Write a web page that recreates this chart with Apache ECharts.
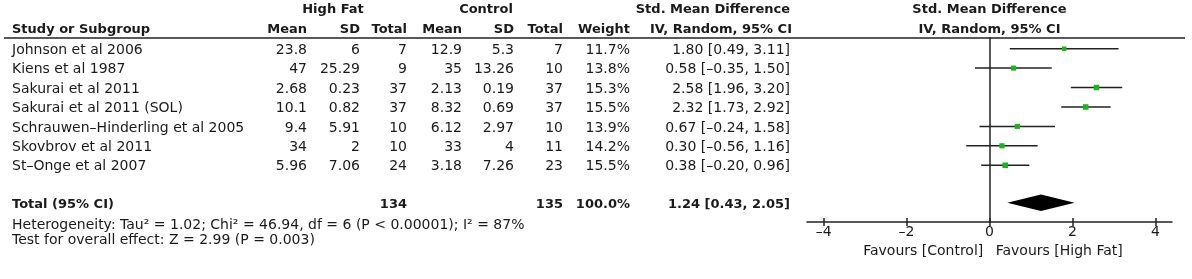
<!DOCTYPE html>
<html>
<head>
<meta charset="utf-8">
<script src="https://cdn.jsdelivr.net/npm/echarts@6/dist/echarts.min.js"></script>
<style>
  html, body { margin: 0; padding: 0; background: #fff; }
  #main { width: 1192px; height: 279px; }
</style>
</head>
<body>
<div id="main"></div>
<script>
// 数据
var studies = ['Johnson et al 2006', 'Kiens et al 1987', 'Sakurai et al 2011', 'Sakurai et al 2011 (SOL)',
               'Schrauwen–Hinderling et al 2005', 'Skovbrov et al 2011', 'St–Onge et al 2007'];
var hfMean  = [23.8, 47, 2.68, 10.1, 9.4, 34, 5.96];
var hfSD    = [6, 25.29, 0.23, 0.82, 5.91, 2, 7.06];
var hfTotal = [7, 9, 37, 37, 10, 10, 24];
var ctMean  = [12.9, 35, 2.13, 8.32, 6.12, 33, 3.18];
var ctSD    = [5.3, 13.26, 0.19, 0.69, 2.97, 4, 7.26];
var ctTotal = [7, 10, 37, 37, 10, 11, 23];
var weight  = [11.7, 13.8, 15.3, 15.5, 13.9, 14.2, 15.5];
var smd     = [1.80, 0.58, 2.58, 2.32, 0.67, 0.30, 0.38];
var lower   = [0.49, -0.35, 1.96, 1.73, -0.24, -0.56, -0.20];
var upper   = [3.11, 1.50, 3.20, 2.92, 1.58, 1.16, 0.96];

var totalHF = 134;
var totalCT = 135;
var totalWeight = 100.0;
var totalSmd = [1.24, 0.43, 2.05]; // 点估计, 下限, 上限

var tickValues = [-4, -2, 0, 2, 4];
var heterogeneity = 'Heterogeneity: Tau² = 1.02; Chi² = 46.94, df = 6 (P < 0.00001); I² = 87%';
var overallEffect = 'Test for overall effect: Z = 2.99 (P = 0.003)';

var FONT = 'DejaVu Sans';
var INK = '#1a1a1a';
var LINE = '#222';
var totalRow = 7.93;

function dash(s) { return String(s).replace('-', '–'); }
function fmtCI(m, lo, hi) { return dash(m.toFixed(2)) + ' [' + dash(lo.toFixed(2)) + ', ' + dash(hi.toFixed(2)) + ']'; }

var myChart = echarts.init(document.getElementById('main'));

var ciData = [], ptData = [];
for (var i = 0; i < studies.length; i++) {
    ciData.push([lower[i], upper[i], i]);
    ptData.push([smd[i], i, weight[i]]);
}

var option = {
    animation: false,
    grid: { left: 807, right: 20, top: 38, bottom: 57 },
    xAxis: [{
        type: 'value', min: -4.4, max: 4.4, position: 'bottom',
        axisLine: { onZero: false, lineStyle: { color: LINE, width: 1.5 } },
        splitLine: { show: false },
        axisTick: { customValues: tickValues, length: 4, lineStyle: { color: LINE, width: 1.5 } },
        axisLabel: {
            customValues: tickValues, margin: 3,
            fontFamily: FONT, fontSize: 14, color: INK,
            formatter: function (v) { return dash(v); }
        }
    }, {
        // 只画刻度朝上的一半
        type: 'value', min: -4.4, max: 4.4, position: 'bottom',
        axisLine: { show: false, onZero: false },
        splitLine: { show: false },
        axisTick: { customValues: tickValues, inside: true, length: 4, lineStyle: { color: LINE, width: 1.5 } },
        axisLabel: { show: false }
    }],
    yAxis: {
        type: 'value', inverse: true, min: -0.55, max: 8.92,
        axisLine: { show: true, onZero: true, lineStyle: { color: LINE, width: 1.5 } },
        axisTick: { show: false },
        axisLabel: { show: false },
        splitLine: { show: false }
    },
    series: [{
        // 置信区间
        type: 'custom',
        data: ciData,
        encode: { x: [0, 1], y: 2 },
        renderItem: function (params, api) {
            var a = api.coord([api.value(0), api.value(2)]);
            var b = api.coord([api.value(1), api.value(2)]);
            return { type: 'line', shape: { x1: a[0], y1: a[1], x2: b[0], y2: b[1] },
                     style: { stroke: LINE, lineWidth: 1.5 } };
        }
    }, {
        type: 'scatter',
        data: ptData,
        symbol: 'rect',
        symbolSize: function (v) { return 1.2 + v[2] * 0.28; },
        itemStyle: { color: '#16b816', opacity: 1 },
        z: 3
    }, {
        // 合并效应菱形
        type: 'custom',
        data: [[totalSmd[0], totalSmd[1], totalSmd[2], totalRow]],
        encode: { x: [0, 1, 2], y: 3 },
        renderItem: function (params, api) {
            var y = api.value(3);
            var c = api.coord([api.value(0), y]);
            var l = api.coord([api.value(1), y]);
            var r = api.coord([api.value(2), y]);
            var h = 8.3;
            return { type: 'polygon',
                     shape: { points: [[l[0], c[1]], [c[0], c[1] - h], [r[0], c[1]], [c[0], c[1] + h]] },
                     style: { fill: '#000' } };
        },
        z: 4
    }]
};

myChart.setOption(option);

// 表格文字
function rowY(idx) { return myChart.convertToPixel({ yAxisIndex: 0 }, idx); }
function px(v) { return myChart.convertToPixel({ xAxisIndex: 0 }, v); }

var g = [];
function txt(s, x, y, align, bold) {
    g.push({ type: 'text', x: x, y: y, silent: true,
             style: { text: s, fill: INK, font: (bold ? 'bold 13px ' : '14px ') + FONT,
                      textAlign: align || 'left', textVerticalAlign: 'middle' } });
}

var colX = { study: 12, hfMean: 307, hfSD: 360, hfTotal: 407, ctMean: 462, ctSD: 514, ctTotal: 563, weight: 630, ci: 790 };

// 表头
txt('High Fat', 333, rowY(-2), 'center', true);
txt('Control', 486, rowY(-2), 'center', true);
txt('Std. Mean Difference', 790, rowY(-2), 'right', true);
txt('Study or Subgroup', colX.study, rowY(-1), 'left', true);
txt('Mean', colX.hfMean, rowY(-1), 'right', true);
txt('SD', colX.hfSD, rowY(-1), 'right', true);
txt('Total', colX.hfTotal, rowY(-1), 'right', true);
txt('Mean', colX.ctMean, rowY(-1), 'right', true);
txt('SD', colX.ctSD, rowY(-1), 'right', true);
txt('Total', colX.ctTotal, rowY(-1), 'right', true);
txt('Weight', colX.weight, rowY(-1), 'right', true);
txt('IV, Random, 95% CI', 792, rowY(-1), 'right', true);
txt('Std. Mean Difference', px(0), rowY(-2), 'center', true);
txt('IV, Random, 95% CI', px(0), rowY(-1), 'center', true);

for (var k = 0; k < studies.length; k++) {
    var y = rowY(k) + 1.5;
    txt(studies[k], colX.study, y, 'left');
    txt(String(hfMean[k]), colX.hfMean, y, 'right');
    txt(String(hfSD[k]), colX.hfSD, y, 'right');
    txt(String(hfTotal[k]), colX.hfTotal, y, 'right');
    txt(String(ctMean[k]), colX.ctMean, y, 'right');
    txt(String(ctSD[k]), colX.ctSD, y, 'right');
    txt(String(ctTotal[k]), colX.ctTotal, y, 'right');
    txt(weight[k].toFixed(1) + '%', colX.weight, y, 'right');
    txt(fmtCI(smd[k], lower[k], upper[k]), colX.ci, y, 'right');
}

var ty = rowY(totalRow) + 1.5;
txt('Total (95% CI)', colX.study, ty, 'left', true);
txt(String(totalHF), colX.hfTotal, ty, 'right', true);
txt(String(totalCT), colX.ctTotal, ty, 'right', true);
txt(totalWeight.toFixed(1) + '%', colX.weight, ty, 'right', true);
txt(fmtCI(totalSmd[0], totalSmd[1], totalSmd[2]), colX.ci, ty, 'right', true);
txt(heterogeneity, colX.study, rowY(9.1), 'left');
txt(overallEffect, colX.study, rowY(9.87), 'left');

txt('Favours [Control]', px(-0.15), rowY(10.45), 'right');
txt('Favours [High Fat]', px(0.15), rowY(10.45), 'left');

// 表头横线
g.push({ type: 'line', silent: true, shape: { x1: 4, y1: 38, x2: 1185, y2: 38 },
         style: { stroke: LINE, lineWidth: 1.5 } });

myChart.setOption({ graphic: g });
</script>
</body>
</html>
